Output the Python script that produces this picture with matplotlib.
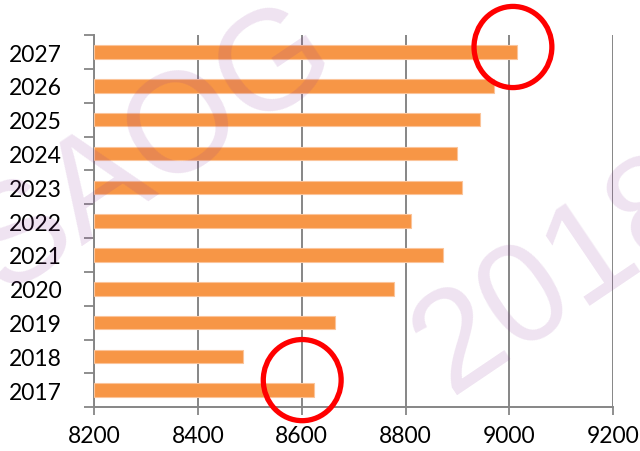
import numpy as np
import matplotlib.pyplot as plt
from matplotlib.patches import Ellipse

# Data
years = ['2017', '2018', '2019', '2020', '2021', '2022', '2023', '2024', '2025', '2026', '2027']
values = [8623, 8486, 8664, 8777, 8873, 8811, 8908, 8899, 8943, 8970, 9015]
x_ticks = [8200, 8400, 8600, 8800, 9000, 9200]

plt.rcParams['font.family'] = ['Lato', 'DejaVu Sans']

fig = plt.figure(figsize=(6.4, 4.52), dpi=100)
ax = fig.add_axes([0.147, 0.097, 0.811, 0.823])

pos = np.arange(len(years))
ax.barh(pos, np.array(values) - x_ticks[0], left=x_ticks[0], height=0.4,
        color='#F79646', edgecolor='#FBC49A', linewidth=0.8, zorder=3)

ax.set_xlim(x_ticks[0], x_ticks[-1])
ax.set_ylim(-0.5, len(years) - 0.5)

# x axis
ax.set_xticks(x_ticks)
ax.set_xticklabels([str(t) for t in x_ticks], fontsize=16.5)
ax.tick_params(axis='x', length=6, width=1.3, color='#868686', pad=7)
ax.grid(axis='x', color='#868686', linewidth=1.4, zorder=1)

# y axis: ticks at category boundaries, labels in the middle
ax.set_yticks(np.arange(-0.5, len(years), 1.0))
ax.set_yticklabels([])
ax.set_yticks(pos, minor=True)
ax.set_yticklabels(years, minor=True, fontsize=16.5)
ax.tick_params(axis='y', which='major', length=7, width=1.3, color='#868686')
ax.tick_params(axis='y', which='minor', length=0, pad=23)

for s in ['top', 'right']:
    ax.spines[s].set_visible(False)
for s in ['left', 'bottom']:
    ax.spines[s].set_color('#868686')
    ax.spines[s].set_linewidth(1.4)

# watermark
wm = dict(fontsize=102, color=(0.55, 0.2, 0.6), alpha=0.14, rotation=34,
          ha='center', va='center', family='Liberation Sans',
          zorder=5, rotation_mode='anchor')
fig.text(152 / 640, 1 - 150 / 452, 'SAOG', **wm)
fig.text(560 / 640, 1 - 276 / 452, '2018', **wm)

# red highlight circles
ax.add_patch(Ellipse((9007, 10.15), 150, 2.4, fill=False, edgecolor='red',
                     linewidth=3.8, clip_on=False, zorder=6))
ax.add_patch(Ellipse((8601, 0.3), 150, 2.4, fill=False, edgecolor='red',
                     linewidth=3.8, clip_on=False, zorder=6))

fig.savefig('out.png', dpi=100)
